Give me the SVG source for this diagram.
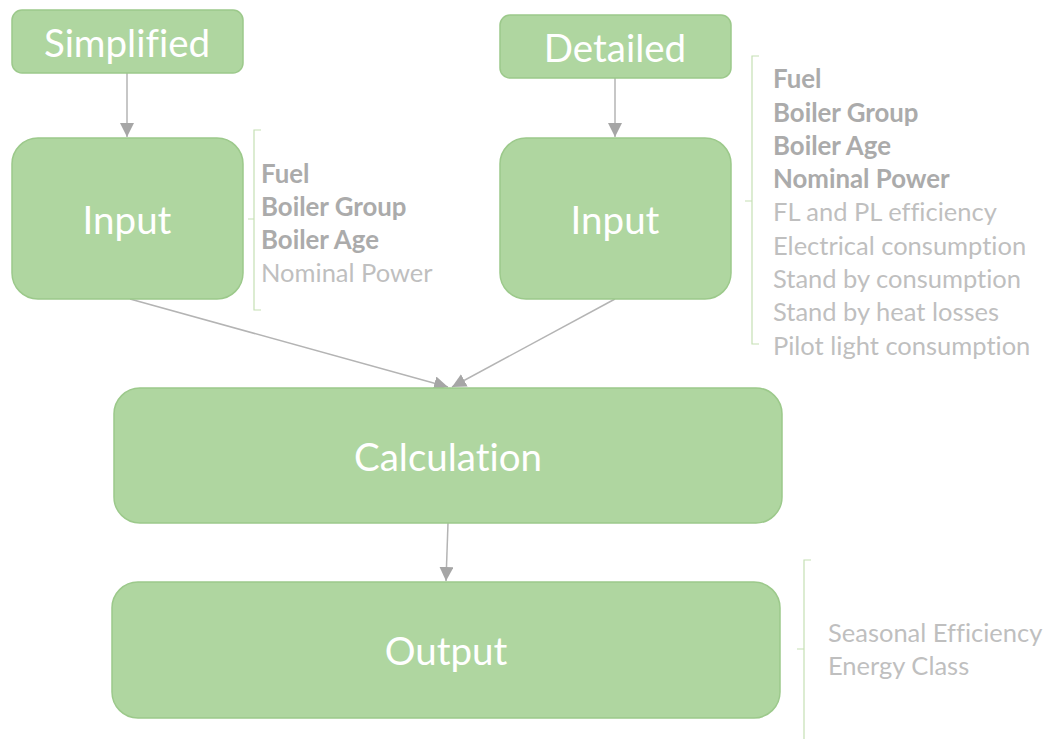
<svg xmlns="http://www.w3.org/2000/svg" width="1043" height="739" viewBox="0 0 1043 739">
<defs>
<marker id="ah2" viewBox="0 0 10 10" refX="10" refY="5" markerWidth="14" markerHeight="14" markerUnits="userSpaceOnUse" orient="auto">
<path d="M0,0 L10,5 L0,10 Z" fill="#a6a6a6"/>
</marker>
</defs>
<style>
text{font-variant-ligatures:none}
.box{fill:#afd6a0;stroke:#9cc98b;stroke-width:1.5}
.lbl{font-family:Lato,"Liberation Sans",sans-serif;fill:#ffffff;text-anchor:middle;dominant-baseline:central;font-size:38.5px}
.lst{font-family:Lato,"Liberation Sans",sans-serif;fill:#bfbfbf;font-size:25.5px}
.b{font-weight:bold;fill:#ababab;font-size:25.8px}
.br{fill:none;stroke:#c5e0b4;stroke-width:1.2}
.con{fill:none;stroke:#b4b4b4;stroke-width:1.5}
</style>
<rect width="1043" height="739" fill="#ffffff"/>
<g id="connectors">
<line class="con" x1="127" y1="73" x2="127" y2="137" marker-end="url(#ah2)"/>
<line class="con" x1="615" y1="78" x2="615" y2="137" marker-end="url(#ah2)"/>
<line class="con" x1="130" y1="299" x2="448" y2="387" marker-end="url(#ah2)"/>
<line class="con" x1="615" y1="299" x2="452" y2="387" marker-end="url(#ah2)"/>
<line class="con" x1="448" y1="523" x2="446" y2="581" marker-end="url(#ah2)"/>
</g>
<g id="simplified">
<rect class="box" x="12" y="10" width="231" height="63" rx="10"/>
<text class="lbl" x="127" y="42">Simplified</text>
</g>
<g id="detailed">
<rect class="box" x="500" y="15" width="231" height="63" rx="10"/>
<text class="lbl" x="615" y="47">Detailed</text>
</g>
<g id="input-simplified">
<rect class="box" x="12" y="138" width="231" height="161" rx="26"/>
<text class="lbl" x="127" y="219">Input</text>
</g>
<g id="input-detailed">
<rect class="box" x="500" y="138" width="231" height="161" rx="26"/>
<text class="lbl" x="615" y="219">Input</text>
</g>
<g id="calculation">
<rect class="box" x="114" y="388" width="668" height="135" rx="26"/>
<text class="lbl" x="448" y="456">Calculation</text>
</g>
<g id="output">
<rect class="box" x="112" y="582" width="668" height="136" rx="26"/>
<text class="lbl" x="446" y="650">Output</text>
</g>
<g id="list-simplified">
<path class="br" d="M261,130 H254 V310 H261 M254,219 H248"/>
<text class="lst b" x="261" y="183">Fuel</text>
<text class="lst b" x="261" y="216">Boiler Group</text>
<text class="lst b" x="261" y="249">Boiler Age</text>
<text class="lst" x="261" y="282">Nominal Power</text>
</g>
<g id="list-detailed">
<path class="br" d="M759,56 H752 V344 H759 M752,201 H745"/>
<text class="lst b" x="773" y="88">Fuel</text>
<text class="lst b" x="773" y="122">Boiler Group</text>
<text class="lst b" x="773" y="155">Boiler Age</text>
<text class="lst b" x="773" y="188">Nominal Power</text>
<text class="lst" x="773" y="221">FL and PL efficiency</text>
<text class="lst" x="773" y="255">Electrical consumption</text>
<text class="lst" x="773" y="288">Stand by consumption</text>
<text class="lst" x="773" y="321">Stand by heat losses</text>
<text class="lst" x="773" y="355">Pilot light consumption</text>
</g>
<g id="list-output">
<path class="br" d="M811,560 H804 V739 M804,649 H797"/>
<text class="lst" x="828" y="642">Seasonal Efficiency</text>
<text class="lst" x="828" y="675">Energy Class</text>
</g>
</svg>
